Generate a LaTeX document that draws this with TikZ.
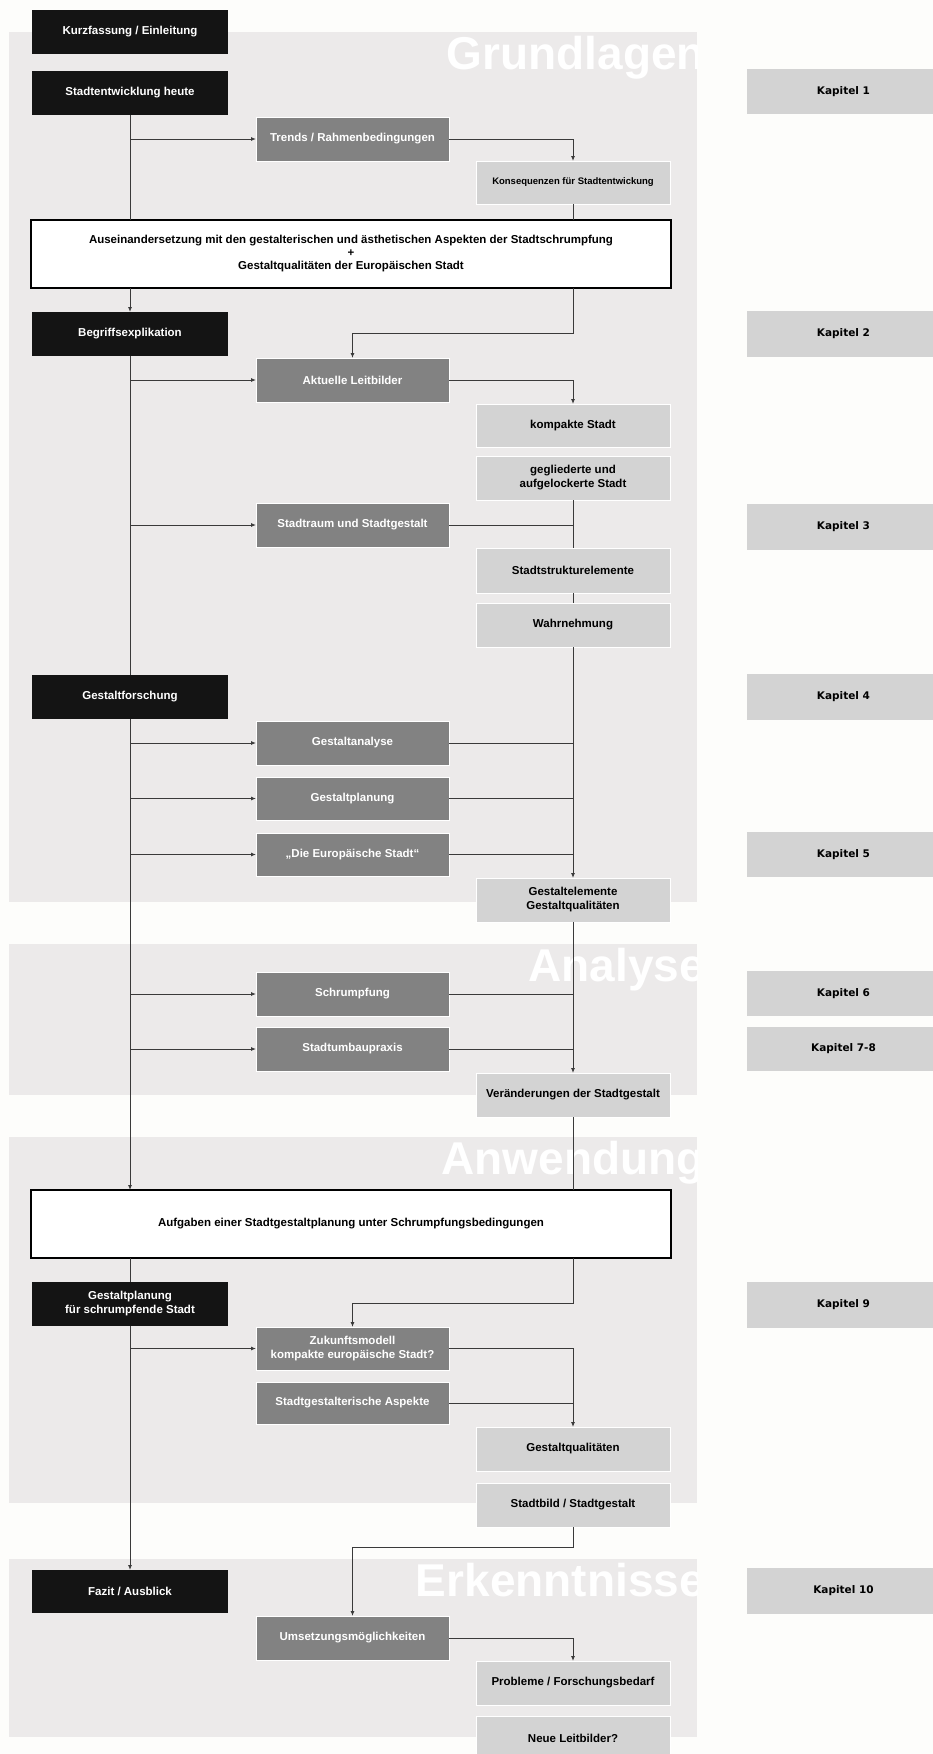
\documentclass[tikz,border=0pt]{standalone}
\usepackage{fontspec}
\setmainfont{Liberation Sans}
\newfontfamily\kapfont{DejaVu Sans}
\usetikzlibrary{arrows.meta}
\definecolor{bgw}{HTML}{FDFDFB}
\definecolor{band}{HTML}{ECEAEA}
\definecolor{boxblack}{HTML}{141414}
\definecolor{boxdark}{HTML}{828282}
\definecolor{boxlight}{HTML}{D3D3D3}
\definecolor{linec}{HTML}{3A3A3A}
% \bx{style}{x1}{y1}{x2}{y2}{name}{text}
\newcommand\bx[7]{%
  \pgfmathsetmacro\bxcx{(#2+#4)/2}%
  \pgfmathsetmacro\bxcy{(#3+#5)/2}%
  \pgfmathsetmacro\bxw{#4-#2}%
  \pgfmathsetmacro\bxh{#5-#3}%
  \node[#1, minimum width=\bxw pt, minimum height=\bxh pt] (#6) at (\bxcx,\bxcy) {#7};}
\begin{document}
\begin{tikzpicture}[x=1pt,y=-1pt,
  box/.style={inner sep=0pt, outer sep=0pt, align=center, font=\bfseries\fontsize{11.5}{14}\selectfont},
  blk/.style={box, fill=boxblack, text=white},
  drk/.style={box, fill=boxdark, draw=white, line width=0.6pt, text=white},
  lgt/.style={box, fill=boxlight, draw=white, line width=0.6pt, text=black},
  wht/.style={box, fill=white, draw=black, line width=1.4pt},
  kap/.style={inner sep=0pt, outer sep=0pt, fill=boxlight, font=\kapfont\bfseries\fontsize{10.5}{12}\selectfont},
  ln/.style={draw=linec, line width=0.9pt},
  arr/.style={ln, -{Latex[length=5pt,width=4pt]}},
  ttl/.style={inner sep=0pt, anchor=base east, text=white, font=\bfseries\fontsize{46}{46}\selectfont}
]
\path[use as bounding box, fill=bgw] (0,0) rectangle (933,1754);
\clip (0,0) rectangle (933,1754);

% bands
\fill[band] (9,32) rectangle (697,902);
\fill[band] (9,944) rectangle (697,1095);
\fill[band] (9,1137) rectangle (697,1503);
\fill[band] (9,1559) rectangle (697,1737);
\begin{scope}\clip (9,32) rectangle (697,902);\node[ttl] (tg) at (705,69) {Grundlagen};\end{scope}
\begin{scope}\clip (9,944) rectangle (697,1095);\node[ttl] (ta) at (705,981) {Analyse};\end{scope}
\begin{scope}\clip (9,1137) rectangle (697,1503);\node[ttl] (tw) at (705,1174) {Anwendung};\end{scope}
\begin{scope}\clip (9,1559) rectangle (697,1737);\node[ttl] (te) at (705,1596) {Erkenntnisse};\end{scope}

% left column
\bx{blk}{32}{10}{228}{54}{kurz}{Kurzfassung / Einleitung}
\bx{blk}{32}{71}{228}{115}{sth}{Stadtentwicklung heute}
\bx{blk}{32}{312}{228}{356}{begr}{Begriffsexplikation}
\bx{blk}{32}{675}{228}{719}{gf}{Gestaltforschung}
\bx{blk}{32}{1282}{228}{1326}{gps}{Gestaltplanung\\für schrumpfende Stadt}
\bx{blk}{32}{1570}{228}{1613}{fazit}{Fazit / Ausblick}

% middle column
\bx{drk}{256}{117}{449}{161}{trends}{Trends / Rahmenbedingungen}
\bx{drk}{256}{358}{449}{402}{akt}{Aktuelle Leitbilder}
\bx{drk}{256}{503}{449}{547}{sraum}{Stadtraum und Stadtgestalt}
\bx{drk}{256}{721}{449}{765}{ganal}{Gestaltanalyse}
\bx{drk}{256}{777}{449}{820}{gplan}{Gestaltplanung}
\bx{drk}{256}{833}{449}{876}{eustadt}{„Die Europäische Stadt“}
\bx{drk}{256}{972}{449}{1016}{schr}{Schrumpfung}
\bx{drk}{256}{1027}{449}{1071}{sumb}{Stadtumbaupraxis}
\bx{drk}{256}{1327}{449}{1370}{zuk}{Zukunftsmodell\\kompakte europäische Stadt?}
\bx{drk}{256}{1382}{449}{1424}{sasp}{Stadtgestalterische Aspekte}
\bx{drk}{256}{1616}{449}{1660}{ums}{Umsetzungsmöglichkeiten}

% right column
\bx{lgt, font=\bfseries\fontsize{9.5}{11}\selectfont}{476}{161}{670}{204}{kons}{Konsequenzen für Stadtentwickung}
\bx{lgt}{476}{404}{670}{447}{komp}{kompakte Stadt}
\bx{lgt}{476}{456}{670}{500}{gegl}{gegliederte und\\aufgelockerte Stadt}
\bx{lgt}{476}{548}{670}{593}{sstr}{Stadtstrukturelemente}
\bx{lgt}{476}{603}{670}{647}{wahr}{Wahrnehmung}
\bx{lgt}{476}{878}{670}{922}{gelem}{Gestaltelemente\\Gestaltqualitäten}
\bx{lgt}{476}{1073}{670}{1117}{veraend}{Veränderungen der Stadtgestalt}
\bx{lgt}{476}{1427}{670}{1471}{gq}{Gestaltqualitäten}
\bx{lgt}{476}{1483}{670}{1527}{sbild}{Stadtbild / Stadtgestalt}
\bx{lgt}{476}{1661}{670}{1705}{probl}{Probleme / Forschungsbedarf}
\bx{lgt}{476}{1716}{670}{1760}{neue}{Neue Leitbilder?}

% wide boxes
\bx{wht}{31}{220}{671}{288}{big1}{Auseinandersetzung mit den gestalterischen und ästhetischen Aspekten der Stadtschrumpfung\\[-1pt]+\\[-1pt]Gestaltqualitäten der Europäischen Stadt}
\bx{wht}{31}{1190}{671}{1258}{big2}{Aufgaben einer Stadtgestaltplanung unter Schrumpfungsbedingungen}

% chapter column
\bx{kap}{747}{69}{940}{114}{k1}{Kapitel 1}
\bx{kap}{747}{311}{940}{357}{k2}{Kapitel 2}
\bx{kap}{747}{504}{940}{550}{k3}{Kapitel 3}
\bx{kap}{747}{674}{940}{720}{k4}{Kapitel 4}
\bx{kap}{747}{832}{940}{877}{k5}{Kapitel 5}
\bx{kap}{747}{971}{940}{1016}{k6}{Kapitel 6}
\bx{kap}{747}{1027}{940}{1071}{k78}{Kapitel 7-8}
\bx{kap}{747}{1282}{940}{1328}{k9}{Kapitel 9}
\bx{kap}{747}{1568}{940}{1614}{k10}{Kapitel 10}

% helper bend points
\coordinate (t1) at (352.5,333);
\coordinate (t2) at (352.5,1303);
\coordinate (t3) at (352.5,1547);

% connectors
\draw[ln] (sth.south) -- (sth.south |- big1.north);
\draw[arr] (sth.south |- trends.west) -- (trends.west);
\draw[arr] (trends.east) -| (kons.north);
\draw[ln] (kons.south) -- (kons.south |- big1.north);
\draw[arr] (sth.south |- big1.south) -- (begr.north);
\draw[arr] (kons.south |- big1.south) |- (t1) -- (akt.north);
\draw[ln] (begr.south) -- (gf.north);
\draw[arr] (begr.south |- akt.west) -- (akt.west);
\draw[arr] (akt.east) -| (komp.north);
\draw[arr] (begr.south |- sraum.west) -- (sraum.west);
\draw[ln] (sraum.east) -- (sraum.east -| gegl.south);
\draw[ln] (gegl.south) -- (sstr.north);
\draw[ln] (sstr.south) -- (wahr.north);
\draw[arr] (wahr.south) -- (gelem.north);
\foreach \n in {ganal,gplan,eustadt}{
  \draw[arr] (gf.south |- \n.west) -- (\n.west);
  \draw[ln] (\n.east) -- (\n.east -| wahr.south);
}
\draw[arr] (gf.south) -- (gf.south |- big2.north);
\foreach \n in {schr,sumb}{
  \draw[arr] (gf.south |- \n.west) -- (\n.west);
  \draw[ln] (\n.east) -- (\n.east -| gelem.south);
}
\draw[arr] (gelem.south) -- (veraend.north);
\draw[ln] (veraend.south) -- (veraend.south |- big2.north);
\draw[ln] (gf.south |- big2.south) -- (gps.north);
\draw[arr] (veraend.south |- big2.south) |- (t2) -- (zuk.north);
\draw[arr] (gps.south) -- (fazit.north);
\draw[arr] (gps.south |- zuk.west) -- (zuk.west);
\draw[arr] (zuk.east) -| (gq.north);
\draw[ln] (sasp.east) -- (sasp.east -| gq.north);
\draw[arr] (sbild.south) |- (t3) -- (ums.north);
\draw[arr] (ums.east) -| (probl.north);
\end{tikzpicture}
\end{document}
